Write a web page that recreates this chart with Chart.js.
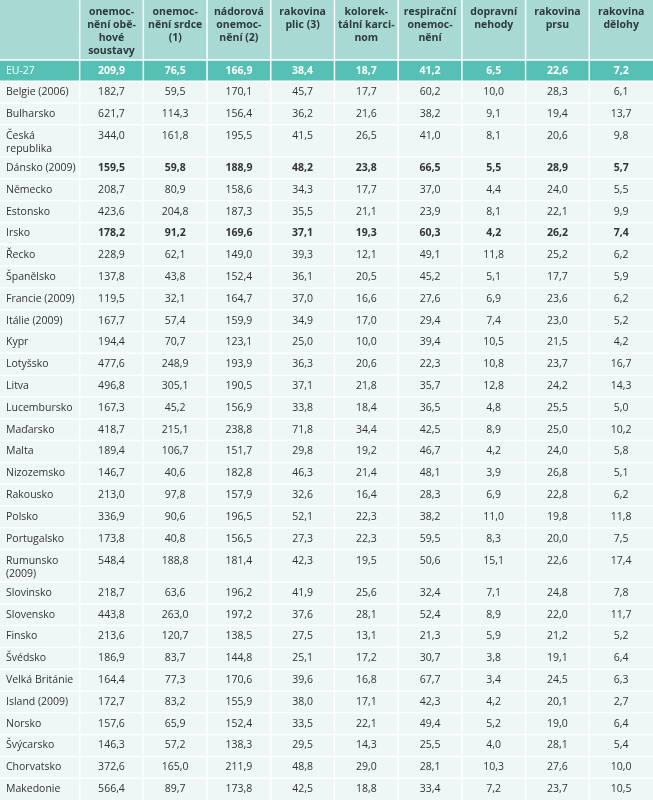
<!DOCTYPE html>
<html>
<head>
<meta charset="utf-8">
<script src="https://cdn.jsdelivr.net/npm/chart.js@4"></script>
<style>body{margin:0;background:#fff}</style>
</head>
<body>
<canvas id="tbl" width="653" height="800"></canvas>
<script>
const headers = ['', 'onemoc-\nnění obě-\nhové\nsoustavy', 'onemoc-\nnění srdce\n(1)', 'nádorová\nonemoc-\nnění (2)', 'rakovina\nplic (3)', 'kolorek-\ntální karci-\nnom', 'respirační\nonemoc-\nnění', 'dopravní\nnehody', 'rakovina\nprsu', 'rakovina\ndělohy'];
const countries = ['EU-27', 'Belgie (2006)', 'Bulharsko', 'Česká\nrepublika', 'Dánsko (2009)', 'Německo', 'Estonsko', 'Irsko', 'Řecko', 'Španělsko', 'Francie (2009)', 'Itálie (2009)', 'Kypr', 'Lotyšsko', 'Litva', 'Lucembursko', 'Maďarsko', 'Malta', 'Nizozemsko', 'Rakousko', 'Polsko', 'Portugalsko', 'Rumunsko\n(2009)', 'Slovinsko', 'Slovensko', 'Finsko', 'Švédsko', 'Velká Británie', 'Island (2009)', 'Norsko', 'Švýcarsko', 'Chorvatsko', 'Makedonie'];
const circulatory = [209.9,182.7,621.7,344.0,159.5,208.7,423.6,178.2,228.9,137.8,119.5,167.7,194.4,477.6,496.8,167.3,418.7,189.4,146.7,213.0,336.9,173.8,548.4,218.7,443.8,213.6,186.9,164.4,172.7,157.6,146.3,372.6,566.4];
const heart = [76.5,59.5,114.3,161.8,59.8,80.9,204.8,91.2,62.1,43.8,32.1,57.4,70.7,248.9,305.1,45.2,215.1,106.7,40.6,97.8,90.6,40.8,188.8,63.6,263.0,120.7,83.7,77.3,83.2,65.9,57.2,165.0,89.7];
const tumours = [166.9,170.1,156.4,195.5,188.9,158.6,187.3,169.6,149.0,152.4,164.7,159.9,123.1,193.9,190.5,156.9,238.8,151.7,182.8,157.9,196.5,156.5,181.4,196.2,197.2,138.5,144.8,170.6,155.9,152.4,138.3,211.9,173.8];
const lung = [38.4,45.7,36.2,41.5,48.2,34.3,35.5,37.1,39.3,36.1,37.0,34.9,25.0,36.3,37.1,33.8,71.8,29.8,46.3,32.6,52.1,27.3,42.3,41.9,37.6,27.5,25.1,39.6,38.0,33.5,29.5,48.8,42.5];
const colorectal = [18.7,17.7,21.6,26.5,23.8,17.7,21.1,19.3,12.1,20.5,16.6,17.0,10.0,20.6,21.8,18.4,34.4,19.2,21.4,16.4,22.3,22.3,19.5,25.6,28.1,13.1,17.2,16.8,17.1,22.1,14.3,29.0,18.8];
const respiratory = [41.2,60.2,38.2,41.0,66.5,37.0,23.9,60.3,49.1,45.2,27.6,29.4,39.4,22.3,35.7,36.5,42.5,46.7,48.1,28.3,38.2,59.5,50.6,32.4,52.4,21.3,30.7,67.7,42.3,49.4,25.5,28.1,33.4];
const traffic = [6.5,10.0,9.1,8.1,5.5,4.4,8.1,4.2,11.8,5.1,6.9,7.4,10.5,10.8,12.8,4.8,8.9,4.2,3.9,6.9,11.0,8.3,15.1,7.1,8.9,5.9,3.8,3.4,4.2,5.2,4.0,10.3,7.2];
const breast = [22.6,28.3,19.4,20.6,28.9,24.0,22.1,26.2,25.2,17.7,23.6,23.0,21.5,23.7,24.2,25.5,25.0,24.0,26.8,22.8,19.8,20.0,22.6,24.8,22.0,21.2,19.1,24.5,20.1,19.0,28.1,27.6,23.7];
const uterus = [7.2,6.1,13.7,9.8,5.7,5.5,9.9,7.4,6.2,5.9,6.2,5.2,4.2,16.7,14.3,5.0,10.2,5.8,5.1,6.2,11.8,7.5,17.4,7.8,11.7,5.2,6.4,6.3,2.7,6.4,5.4,10.0,10.5];
const boldRows = ['EU-27', 'Dánsko (2009)', 'Irsko'];

const columns = [circulatory, heart, tumours, lung, colorectal, respiratory, traffic, breast, uterus];

// column boundaries in x units, row heights in y units
const colEdges = [0, 1.25];
for (let i = 1; i < headers.length; i++) colEdges.push(colEdges[i] + 1);
const rowEdges = [0, 2.75];
countries.forEach((c, i) => {
    const h = i === 0 ? 0.97 : (c.includes('\n') ? 1.48 : 1);
    rowEdges.push(rowEdges[rowEdges.length - 1] + h);
});

const fmt = v => v.toFixed(1).replace('.', ',');

const tablePlugin = {
    id: 'table',
    afterDraw(chart) {
        const ctx = chart.ctx;
        const xs = chart.scales.x, ys = chart.scales.y;
        const X = v => xs.getPixelForValue(v), Y = v => ys.getPixelForValue(v);
        ctx.save();
        // backgrounds
        for (let r = 0; r < rowEdges.length - 1; r++) {
            ctx.fillStyle = r === 0 ? '#a8d9d3' : r === 1 ? '#55c0b3' : '#eef7f6';
            ctx.fillRect(X(0), Y(rowEdges[r]), X(colEdges[colEdges.length - 1]) - X(0), Y(rowEdges[r + 1]) - Y(rowEdges[r]));
        }
        // grid lines
        ctx.strokeStyle = '#ffffff';
        ctx.lineWidth = 1.5;
        colEdges.slice(1, -1).forEach(c => {
            ctx.beginPath(); ctx.moveTo(X(c), Y(0)); ctx.lineTo(X(c), Y(rowEdges[rowEdges.length - 1])); ctx.stroke();
        });
        rowEdges.slice(1, -1).forEach(r => {
            ctx.beginPath(); ctx.moveTo(X(0), Y(r)); ctx.lineTo(X(colEdges[colEdges.length - 1]), Y(r)); ctx.stroke();
        });
        // header
        ctx.fillStyle = '#2e3a3c';
        ctx.font = 'bold 10.5px "Open Sans", sans-serif';
        ctx.textAlign = 'center';
        ctx.textBaseline = 'top';
        headers.forEach((h, c) => {
            const cx = (X(colEdges[c]) + X(colEdges[c + 1])) / 2;
            h.split('\n').forEach((line, k) => ctx.fillText(line, cx, Y(0) + 7 + k * 13));
        });
        // body
        countries.forEach((name, i) => {
            const r = i + 1;
            const top = Y(rowEdges[r]), bot = Y(rowEdges[r + 1]);
            const bold = boldRows.includes(name);
            ctx.fillStyle = i === 0 ? '#ffffff' : '#333333';
            ctx.textBaseline = 'middle';
            const lines = name.split('\n');
            const y0 = lines.length > 1 ? top + 11 : (top + bot) / 2;
            ctx.font = '10.5px "Open Sans", sans-serif';
            ctx.textAlign = 'left';
            lines.forEach((line, k) => ctx.fillText(line, X(0) + 6, y0 + k * 13));
            ctx.font = (bold ? 'bold ' : '') + '10.5px "Open Sans", sans-serif';
            ctx.textAlign = 'center';
            columns.forEach((col, c) => {
                const cx = (X(colEdges[c + 1]) + X(colEdges[c + 2])) / 2;
                ctx.fillText(fmt(col[i]), cx, y0);
            });
        });
        ctx.restore();
    }
};

new Chart(document.getElementById('tbl'), {
    type: 'scatter',
    data: {
        datasets: [{
            data: countries.map((c, i) => ({ x: colEdges[0], y: (rowEdges[i + 1] + rowEdges[i + 2]) / 2 })),
            pointRadius: 0
        }]
    },
    options: {
        responsive: false,
        animation: false,
        layout: { padding: 0 },
        plugins: { legend: { display: false }, tooltip: { enabled: false } },
        scales: {
            x: { type: 'linear', display: false, min: 0, max: colEdges[colEdges.length - 1] },
            y: { type: 'linear', display: false, reverse: true, min: 0, max: rowEdges[rowEdges.length - 1] }
        }
    },
    plugins: [tablePlugin]
});
</script>
</body>
</html>
